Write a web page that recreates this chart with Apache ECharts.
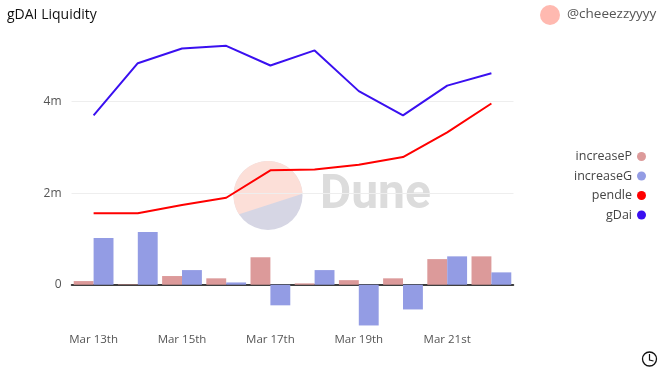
<!DOCTYPE html>
<html>
<head>
<meta charset="utf-8">
<style>html,body{margin:0;padding:0;background:#fff}#c{width:662px;height:373px}</style>
<script src="https://cdn.jsdelivr.net/npm/echarts@6/dist/echarts.min.js"></script>
</head>
<body>
<div id="c"></div>
<script>
const categories = ['Mar 13th','Mar 14th','Mar 15th','Mar 16th','Mar 17th','Mar 18th','Mar 19th','Mar 20th','Mar 21st','Mar 22nd'];
const increaseP = [0.08,0.01,0.19,0.14,0.60,0.03,0.10,0.14,0.56,0.62];
const increaseG = [1.02,1.15,0.32,0.05,-0.45,0.32,-0.89,-0.54,0.62,0.27];
const pendle = [1.56,1.56,1.74,1.90,2.50,2.52,2.62,2.79,3.33,3.96];
const gDai = [3.70,4.84,5.16,5.22,4.79,5.12,4.23,3.70,4.35,4.62];
const yTicks = [0,2,4];
const FONT = '"Open Sans","Noto Sans",sans-serif';
// Watermark: upper part of the logo disc, as a polygon tracing the arc
const arc = [];
for (let a = 147; a <= 357.5; a += 3) {
  const r = a * Math.PI / 180;
  arc.push([268 + 34.5 * Math.cos(r), 195.5 + 34.5 * Math.sin(r)]);
}
const chart = echarts.init(document.getElementById('c'), null, {renderer:'canvas'});
chart.setOption({
  animation:false,
  backgroundColor:'#fff',
  title:{text:'gDAI Liquidity',left:7,top:8,padding:0,textStyle:{fontFamily:FONT,fontSize:14,fontWeight:500,color:'#111'}},
  grid:{left:71.5,width:442,top:33,height:297.5,containLabel:false},
  legend:{
    orient:'vertical',right:16,top:150,padding:0,align:'right',
    icon:'circle',itemWidth:9,itemHeight:9,itemGap:6.5,
    selectedMode:false,
    textStyle:{fontFamily:FONT,fontSize:12.5,color:'#444'},
    data:['increaseP','increaseG','pendle','gDai']
  },
  xAxis:[
    {type:'category',data:categories,position:'bottom',axisLine:{show:false},axisTick:{show:false},splitLine:{show:false},
     axisLabel:{interval:1,margin:3,fontFamily:FONT,fontSize:11.5,color:'#555'}},
    {type:'category',data:categories,position:'bottom',axisLine:{show:true,onZero:true,onZeroAxisIndex:0,lineStyle:{color:'#000',width:1.5}},axisTick:{show:false},axisLabel:{show:false},splitLine:{show:false}}
  ],
  yAxis:{type:'value',min:-1,max:5.5,
    axisLine:{show:false},axisTick:{show:false,customValues:yTicks},
    axisLabel:{customValues:yTicks,margin:10,fontFamily:FONT,fontSize:12,color:'#555',formatter:v=>v===0?'0':v+'m'},
    splitLine:{show:true,lineStyle:{color:'#eee',width:1}}
  },
  series:[
    {name:'increaseP',type:'bar',data:increaseP,barGap:0,barCategoryGap:'10%',itemStyle:{color:'#dc9a9a'}},
    {name:'increaseG',type:'bar',data:increaseG,itemStyle:{color:'#939ce4'}},
    {name:'pendle',type:'line',data:pendle,symbol:'none',showSymbol:false,lineStyle:{color:'#ff0000',width:2},itemStyle:{color:'#ff0000'},z:5},
    {name:'gDai',type:'line',data:gDai,symbol:'none',showSymbol:false,lineStyle:{color:'#3a10f0',width:2},itemStyle:{color:'#3a10f0'},z:5}
  ],
  graphic:[
    {type:'circle',silent:true,z:-1,shape:{cx:268,cy:195.5,r:34.5},style:{fill:'#d6d6e4'}},
    {type:'polygon',silent:true,z:-1,shape:{points:arc},style:{fill:'#fcdfd8'}},
    {type:'text',silent:true,z:-1,x:320,y:172,style:{text:'Dune',font:'bold 48px Roboto,sans-serif',fill:'#dcdcdc'}},
    {type:'circle',silent:true,shape:{cx:550,cy:15,r:10},style:{fill:'#ffb9b0'}},
    {type:'text',silent:true,x:567,y:7,style:{text:'@cheeezzyyyy',font:'13.5px "Open Sans",sans-serif',fill:'#555'}},
    {type:'circle',silent:true,shape:{cx:649.5,cy:359,r:7},style:{fill:'#fff',stroke:'#111',lineWidth:1.3}},
    {type:'polyline',silent:true,shape:{points:[[649.5,354],[649.5,360],[653.5,361]]},style:{fill:'none',stroke:'#111',lineWidth:1.2}}
  ]
});
</script>
</body>
</html>
